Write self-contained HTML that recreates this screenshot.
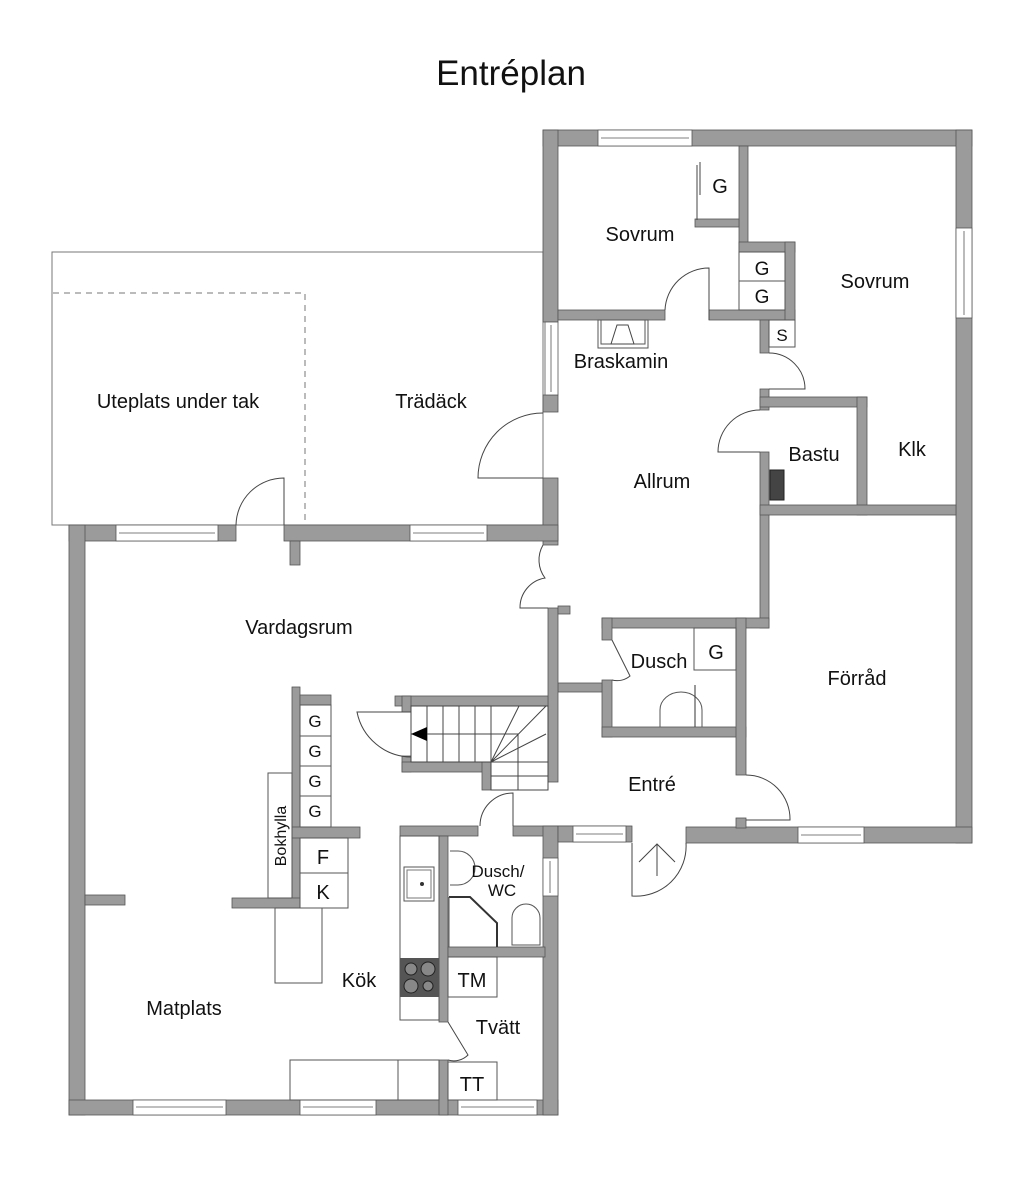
<!DOCTYPE html>
<html><head><meta charset="utf-8"><style>
html,body{margin:0;padding:0;background:#fff}
svg{display:block}
text{font-family:"Liberation Sans",sans-serif;fill:#111}
.w{fill:#9b9b9b;stroke:#555;stroke-width:0.8}
.l{fill:none;stroke:#444;stroke-width:1}
.f{fill:#fff;stroke:#555;stroke-width:1}
</style></head><body>
<svg width="1024" height="1177" viewBox="0 0 1024 1177" xmlns="http://www.w3.org/2000/svg">
<text x="511" y="85" font-size="35" text-anchor="middle">Entréplan</text>

<rect x="52" y="252" width="491" height="273" fill="none" stroke="#777" stroke-width="1"/>
<path d="M53 293 H305 V525" fill="none" stroke="#777" stroke-width="1" stroke-dasharray="6,5"/>

<g class="w">
<rect x="543" y="130" width="429" height="16"/>
<rect x="543" y="130" width="15" height="192"/>
<rect x="543" y="395" width="15" height="17"/>
<rect x="543" y="478" width="15" height="67"/>
<rect x="956" y="130" width="16" height="713"/>
<rect x="558" y="310" width="107" height="10"/>
<rect x="709" y="310" width="86" height="10"/>
<rect x="739" y="146" width="9" height="106"/>
<rect x="739" y="242" width="56" height="10"/>
<rect x="785" y="242" width="10" height="78"/>
<rect x="695" y="219" width="44" height="8"/>
<rect x="760" y="320" width="9" height="33"/>
<rect x="760" y="389" width="9" height="21"/>
<rect x="760" y="397" width="107" height="10"/>
<rect x="857" y="397" width="10" height="118"/>
<rect x="760" y="452" width="9" height="176"/>
<rect x="760" y="505" width="196" height="10"/>
<rect x="602" y="618" width="167" height="10"/>
<rect x="602" y="618" width="10" height="22"/>
<rect x="602" y="680" width="10" height="57"/>
<rect x="602" y="727" width="144" height="10"/>
<rect x="736" y="618" width="10" height="157"/>
<rect x="686" y="827" width="286" height="16"/>
<rect x="736" y="818" width="10" height="10"/>
<rect x="558" y="683" width="44" height="9"/>
<rect x="69" y="525" width="167" height="16"/>
<rect x="284" y="525" width="274" height="16"/>
<rect x="290" y="541" width="10" height="24"/>
<rect x="69" y="525" width="16" height="590"/>
<rect x="69" y="1100" width="489" height="15"/>
<rect x="85" y="895" width="40" height="10"/>
<rect x="548" y="608" width="10" height="174"/>
<rect x="558" y="606" width="12" height="8"/>
<rect x="395" y="696" width="153" height="10"/>
<rect x="402" y="696" width="9" height="16"/>
<rect x="402" y="756" width="9" height="16"/>
<rect x="402" y="762" width="89" height="10"/>
<rect x="482" y="762" width="9" height="28"/>
<rect x="292" y="687" width="8" height="220"/>
<rect x="300" y="695" width="31" height="10"/>
<rect x="292" y="827" width="68" height="11"/>
<rect x="232" y="898" width="68" height="10"/>
<rect x="400" y="826" width="78" height="10"/>
<rect x="513" y="826" width="60" height="10"/>
<rect x="543" y="826" width="15" height="289"/>
<rect x="439" y="836" width="9" height="186"/>
<rect x="439" y="1060" width="9" height="55"/>
<rect x="448" y="947" width="97" height="10"/>
<rect x="558" y="826" width="74" height="16"/>
</g>

<g fill="#fff" stroke="#555" stroke-width="0.8">
<rect x="598" y="130" width="94" height="16"/><line x1="601" y1="138" x2="689" y2="138"/>
<rect x="956" y="228" width="16" height="90"/><line x1="964" y1="231" x2="964" y2="315"/>
<rect x="545" y="322" width="13" height="73"/><line x1="551" y1="325" x2="551" y2="392"/>
<rect x="116" y="525" width="102" height="16"/><line x1="119" y1="533" x2="215" y2="533"/>
<rect x="410" y="525" width="77" height="16"/><line x1="413" y1="533" x2="484" y2="533"/>
<rect x="133" y="1100" width="93" height="15"/><line x1="136" y1="1107" x2="223" y2="1107"/>
<rect x="300" y="1100" width="76" height="15"/><line x1="303" y1="1107" x2="373" y2="1107"/>
<rect x="458" y="1100" width="79" height="15"/><line x1="461" y1="1107" x2="534" y2="1107"/>
<rect x="543" y="858" width="15" height="38"/><line x1="550" y1="861" x2="550" y2="893"/>
<rect x="573" y="826" width="53" height="16"/><line x1="576" y1="834" x2="623" y2="834"/>
<rect x="798" y="827" width="66" height="16"/><line x1="801" y1="835" x2="861" y2="835"/>
</g>

<g class="l">
<path d="M543 478 H478 A65 65 0 0 1 543 413"/>
<path d="M284 525 V478 A48 48 0 0 0 236 525"/>
<path d="M709 320 V268 A44 44 0 0 0 665 310"/>
<path d="M769 389 H805 A36 36 0 0 0 769 353"/>
<path d="M760 452 H718 A42 42 0 0 1 760 410"/>
<path d="M543 545 A30 30 0 0 0 545 578 A30 30 0 0 0 520 608 H548"/>
<path d="M612 640 L630 676 A20 20 0 0 1 612 680"/>
<path d="M746 775 A44 44 0 0 1 790 820 H746"/>
<path d="M632 843 V896 A50 50 0 0 0 686 843"/>
<path d="M657 876 V844 M639 862 L657 844 L675 862"/>
<path d="M513 826 V793 A33 33 0 0 0 480 826"/>
<path d="M411 712 H357 A56 56 0 0 0 411 757"/>
<path d="M448 1022 L468 1055 A20 20 0 0 1 448 1060"/>
<path d="M697 165 V220 M700 162 V195"/>
</g>

<g class="l" stroke-width="0.8">
<rect x="411" y="706" width="137" height="56"/>
<path d="M427 706V762M443 706V762M459 706V762M475 706V762M491 706V790M411 734H518V762M491 762V790H548V762M491 776H548M518 762V790M491 762L519 706M491 762L546 706M491 762L546 734"/>
</g>
<path d="M411 734 L427 727 V741 Z" fill="#000"/>

<g class="f">
<rect x="739" y="252" width="46" height="29"/><rect x="739" y="281" width="46" height="29"/>
<rect x="769" y="320" width="26" height="27"/>
<rect x="300" y="705" width="31" height="31"/><rect x="300" y="736" width="31" height="30"/>
<rect x="300" y="766" width="31" height="30"/><rect x="300" y="796" width="31" height="31"/>
<rect x="268" y="773" width="24" height="125"/>
<rect x="300" y="838" width="48" height="35"/><rect x="300" y="873" width="48" height="35"/>
<rect x="275" y="908" width="47" height="75"/>
<rect x="400" y="836" width="39" height="184"/>
<rect x="448" y="957" width="49" height="40"/>
<rect x="448" y="1062" width="49" height="38"/>
<rect x="290" y="1060" width="149" height="40"/><line x1="398" y1="1060" x2="398" y2="1100"/>
<rect x="694" y="628" width="42" height="42"/>
<rect x="598" y="320" width="50" height="28"/><rect x="601" y="320" width="44" height="24"/>
</g>
<path d="M611 344 L617 325 H628 L634 344 Z" fill="none" stroke="#444"/>
<rect x="400" y="958" width="39" height="39" fill="#555"/>
<g fill="#888" stroke="#222"><circle cx="411" cy="969" r="6"/><circle cx="428" cy="969" r="7"/><circle cx="411" cy="986" r="7"/><circle cx="428" cy="986" r="5"/></g>
<rect x="404" y="867" width="30" height="34" fill="none" stroke="#555"/><rect x="407" y="870" width="24" height="28" fill="none" stroke="#777"/>
<circle cx="422" cy="884" r="2" fill="#333"/>
<path d="M450 851 h8 a17 17 0 0 1 0 34 h-8" fill="none" stroke="#555"/>
<path d="M449 897 H470 L497 923 V947" fill="none" stroke="#333" stroke-width="2"/>
<path d="M512 945 V918 a14 14 0 0 1 28 0 V945 Z" fill="none" stroke="#555"/>
<path d="M660 727 V710 a21 18 0 0 1 42 0 V727" fill="none" stroke="#555"/>
<line x1="695" y1="685" x2="695" y2="727" stroke="#333"/>
<rect x="770" y="470" width="14" height="30" fill="#444" stroke="#222"/>
<line x1="449" y1="897" x2="449" y2="947" stroke="#555"/>

<g font-size="20" text-anchor="middle">
<text x="640" y="241">Sovrum</text>
<text x="720" y="193">G</text>
<text x="762" y="275" font-size="19">G</text><text x="762" y="303" font-size="19">G</text>
<text x="782" y="341" font-size="17">S</text>
<text x="875" y="288">Sovrum</text>
<text x="621" y="368">Braskamin</text>
<text x="178" y="408">Uteplats under tak</text>
<text x="431" y="408">Trädäck</text>
<text x="662" y="488">Allrum</text>
<text x="814" y="461">Bastu</text>
<text x="912" y="456">Klk</text>
<text x="299" y="634">Vardagsrum</text>
<text x="659" y="668">Dusch</text>
<text x="716" y="659">G</text>
<text x="857" y="685">Förråd</text>
<text x="652" y="791">Entré</text>
<text x="315" y="727" font-size="17">G</text><text x="315" y="757" font-size="17">G</text>
<text x="315" y="787" font-size="17">G</text><text x="315" y="817" font-size="17">G</text>
<text x="323" y="864">F</text><text x="323" y="899">K</text>
<text x="359" y="987">Kök</text>
<text x="184" y="1015">Matplats</text>
<text x="498" y="877" font-size="17">Dusch/</text>
<text x="502" y="896" font-size="17">WC</text>
<text x="472" y="987">TM</text>
<text x="498" y="1034">Tvätt</text>
<text x="472" y="1091">TT</text>
</g>
<text transform="translate(286,836) rotate(-90)" font-size="16" text-anchor="middle">Bokhylla</text>
</svg>
</body></html>
